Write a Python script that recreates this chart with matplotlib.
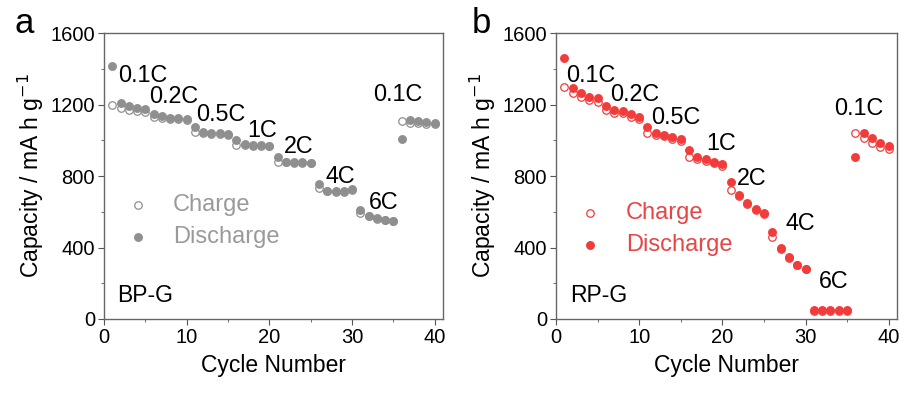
import matplotlib
matplotlib.use("Agg")
import matplotlib.pyplot as plt
from matplotlib.ticker import MultipleLocator

plt.rcParams['font.family'] = ['Liberation Sans', 'DejaVu Sans']

cycles = list(range(1, 41))

bp_charge = [1197, 1179, 1169, 1165, 1160, 1132, 1125, 1120, 1118, 1115,
             1048, 1040, 1036, 1034, 1032, 973, 972, 970, 968, 966,
             880, 876, 874, 872, 871, 735, 714, 712, 712, 720,
             595, 576, 561, 552, 546, 1108, 1098, 1095, 1092, 1090]
bp_discharge = [1415, 1210, 1191, 1180, 1175, 1147, 1134, 1126, 1123, 1119,
                1076, 1044, 1040, 1038, 1036, 1000, 978, 975, 972, 970,
                906, 880, 878, 876, 875, 755, 718, 716, 716, 725,
                612, 578, 563, 554, 548, 1009, 1113, 1110, 1104, 1098]

rp_charge = [1296, 1266, 1244, 1225, 1216, 1169, 1154, 1150, 1132, 1117,
             1039, 1032, 1022, 1008, 996, 908, 893, 885, 874, 856,
             722, 688, 646, 611, 588, 461, 394, 342, 300, 278,
             47, 47, 47, 47, 47, 1039, 1011, 986, 964, 949]
rp_discharge = [1458, 1290, 1262, 1244, 1234, 1193, 1169, 1164, 1147, 1132,
                1072, 1039, 1029, 1016, 1007, 945, 908, 893, 880, 867,
                768, 694, 651, 615, 591, 487, 397, 345, 302, 280,
                50, 50, 50, 50, 50, 905, 1039, 1011, 987, 968]

rates = ['0.1C', '0.2C', '0.5C', '1C', '2C', '4C', '6C', '0.1C']
bp_rate_pos = [(1.7, 1327), (5.5, 1207), (11.1, 1109), (17.3, 1020),
               (21.7, 930), (26.75, 759), (32.0, 614), (32.5, 1221)]
rp_rate_pos = [(1.2, 1327), (6.47, 1221), (11.46, 1091), (18.05, 945),
               (21.8, 750), (27.6, 498), (31.6, 172), (33.4, 1141)]

fig = plt.figure(figsize=(9.06, 3.94), dpi=100)
axA = fig.add_axes([104/906, 75/394, 339/906, 286/394])
axB = fig.add_axes([556/906, 75/394, 341/906, 286/394])

gray = '#8f8f8f'
gray_txt = '#9a9a9a'
red = '#f23b3b'
red_txt = '#e84545'
MS = 5.4

def setup(ax):
    ax.set_xlim(0, 41)
    ax.set_ylim(0, 1600)
    ax.xaxis.set_major_locator(MultipleLocator(10))
    ax.xaxis.set_minor_locator(MultipleLocator(5))
    ax.yaxis.set_major_locator(MultipleLocator(400))
    ax.yaxis.set_minor_locator(MultipleLocator(200))
    ax.tick_params(which='both', direction='out', top=False, right=False,
                   labelsize=14.5, colors='#555555', labelcolor='black', pad=2.5)
    ax.tick_params(which='major', length=4)
    ax.tick_params(which='minor', length=2)
    for s in ax.spines.values():
        s.set_color('#666666')
        s.set_linewidth(1.0)
    ax.set_xlabel('Cycle Number', fontsize=16.5, labelpad=5)
    ax.set_ylabel('Capacity / mA h g$^{-1}$', fontsize=16.5, labelpad=3)

def draw(ax, ch, dis, col, tcol, pos, name, leg_xy):
    ax.plot(cycles, ch, 'o', ls='none', ms=MS, mfc='white', mec=col, mew=0.9, zorder=3)
    ax.plot(cycles, dis, 'o', ls='none', ms=MS, mfc=col, mec=col, zorder=4)
    for r, (x, y) in zip(rates, pos):
        ax.text(x, y, r, fontsize=16.8, ha='left', va='baseline', color='black')
    ax.text(0.04, 0.06, name, transform=ax.transAxes, fontsize=16.5,
            ha='left', va='baseline', color='black')
    lx, ly1, ly2, tx = leg_xy
    ax.plot([lx], [ly1], 'o', ms=MS, mfc='white', mec=col, mew=0.9, transform=ax.transAxes, clip_on=False)
    ax.plot([lx], [ly2], 'o', ms=MS, mfc=col, mec=col, transform=ax.transAxes, clip_on=False)
    ax.text(tx, ly1, 'Charge', transform=ax.transAxes, fontsize=17, color=tcol, va='center', ha='left')
    ax.text(tx, ly2, 'Discharge', transform=ax.transAxes, fontsize=17, color=tcol, va='center', ha='left')

setup(axA)
setup(axB)
draw(axA, bp_charge, bp_discharge, gray, gray_txt, bp_rate_pos, 'BP-G',
     ((138-104)/339, (319-205)/286, (319-237)/286, (173-104)/339))
draw(axB, rp_charge, rp_discharge, red, red_txt, rp_rate_pos, 'RP-G',
     ((590-556)/341, (319-213)/286, (319-245)/286, (626-556)/341))

fig.text(15/906, 1-33/394, 'a', fontsize=25, ha='left', va='baseline')
fig.text(472/906, 1-33/394, 'b', fontsize=25, ha='left', va='baseline')

fig.savefig('out.png', dpi=100)
